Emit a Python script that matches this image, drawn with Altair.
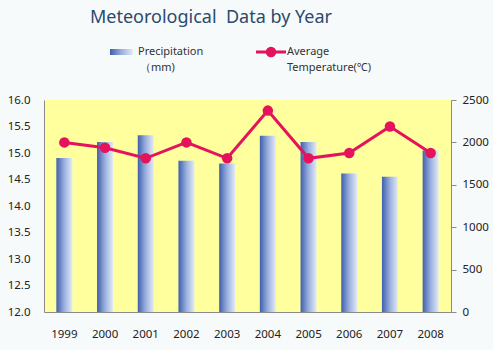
import altair as alt
import pandas as pd

years = ["1999", "2000", "2001", "2002", "2003", "2004", "2005", "2006", "2007", "2008"]
precipitation = [1815, 2005, 2085, 1783, 1751, 2077, 2006, 1634, 1595, 1904]
temperature = [15.2, 15.1, 14.9, 15.2, 14.9, 15.8, 14.9, 15.0, 15.5, 15.0]

title_text = "Meteorological\u00a0\u00a0Data by Year"
legend_bar_label = ["Precipitation", "\uff08mm)"]
legend_line_label = ["Average", "Temperature(\u2103)"]

df = pd.DataFrame({"year": years, "precip": precipitation, "temp": temperature})

FONT = "Noto Sans"
LINE_COLOR = "#E4135C"

grad = alt.Gradient(
    gradient="linear",
    stops=[
        alt.GradientStop(color="#3F5FAE", offset=0),
        alt.GradientStop(color="#9AB0DE", offset=0.5),
        alt.GradientStop(color="#E3EAF7", offset=1),
    ],
    x1=0, x2=1, y1=0, y2=0,
)

x = alt.X("year:O", sort=years, title=None,
          axis=alt.Axis(labelAngle=0, ticks=False, domainColor="#8A8A8A",
                        labelPadding=16, labelFontSize=11.5, labelFont=FONT,
                        labelColor="#222222"))

bars = alt.Chart(df).mark_bar(color=grad, size=16).encode(
    x=x,
    y=alt.Y("precip:Q", scale=alt.Scale(domain=[0, 2500]), title=None,
            axis=alt.Axis(orient="right", values=[0, 500, 1000, 1500, 2000, 2500],
                          format="d", grid=False, tickSize=5, tickColor="#8A8A8A",
                          domainColor="#8A8A8A", labelPadding=6,
                          labelFontSize=11.5, labelFont=FONT, labelColor="#222222")),
)

line = alt.Chart(df).mark_line(color=LINE_COLOR, strokeWidth=3,
                               point=alt.OverlayMarkDef(color=LINE_COLOR, size=110, filled=True, opacity=1)).encode(
    x=x,
    y=alt.Y("temp:Q", scale=alt.Scale(domain=[12, 16]), title=None,
            axis=alt.Axis(orient="left", values=[12, 12.5, 13, 13.5, 14, 14.5, 15, 15.5, 16],
                          format=".1f", grid=False, ticks=False,
                          domainColor="#8A8A8A", labelPadding=14,
                          labelFontSize=11.5, labelFont=FONT, labelColor="#222222")),
)

one = pd.DataFrame({"k": [0]})

title = alt.Chart(one).mark_text(text=title_text, font=FONT, fontSize=18,
                                 color="#2B4A6B", align="center", baseline="alphabetic").encode(
    x=alt.value(167), y=alt.value(-77))

leg_rect = alt.Chart(one).mark_rect(color=grad).encode(
    x=alt.value(66), x2=alt.value(89), y=alt.value(-51), y2=alt.value(-45))

leg_text1 = alt.Chart(one).mark_text(text=legend_bar_label[0], font=FONT, fontSize=11,
                                     color="#333333", align="left", baseline="middle").encode(
    x=alt.value(94), y=alt.value(-48))
leg_text2 = alt.Chart(one).mark_text(text=legend_bar_label[1], font=FONT, fontSize=11,
                                     color="#333333", align="left", baseline="middle").encode(
    x=alt.value(96), y=alt.value(-32))

leg_line = alt.Chart(one).mark_rule(color=LINE_COLOR, strokeWidth=3).encode(
    x=alt.value(212), x2=alt.value(242), y=alt.value(-48))
leg_pt = alt.Chart(one).mark_point(color=LINE_COLOR, filled=True, size=110, opacity=1).encode(
    x=alt.value(227), y=alt.value(-48))
leg_text3 = alt.Chart(one).mark_text(text=legend_line_label[0], font=FONT, fontSize=11,
                                     color="#333333", align="left", baseline="middle").encode(
    x=alt.value(243), y=alt.value(-48))
leg_text4 = alt.Chart(one).mark_text(text=legend_line_label[1], font=FONT, fontSize=11,
                                     color="#333333", align="left", baseline="middle").encode(
    x=alt.value(243), y=alt.value(-32))

chart = alt.layer(
    bars, line, title, leg_rect, leg_text1, leg_text2, leg_line, leg_pt, leg_text3, leg_text4
).resolve_scale(y="independent").properties(
    width=407, height=212,
    autosize=alt.AutoSizeParams(type="none"),
    padding={"left": 44, "top": 100, "right": 42, "bottom": 38},
    background="#F7FAFA",
).configure_view(fill="#FFFF9E", strokeWidth=0)

chart.save("out.html", embed_options={"renderer": "svg", "actions": False})
